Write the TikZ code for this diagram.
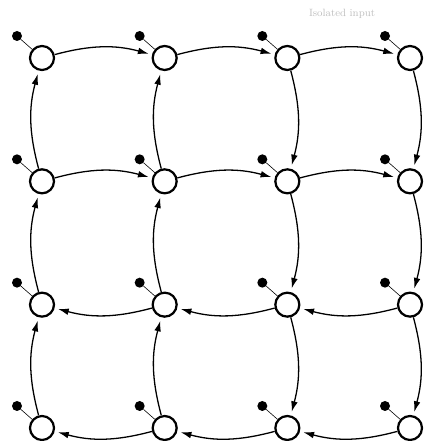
\documentclass[tikz,border=0pt]{standalone}
\usetikzlibrary{arrows.meta}
\begin{document}
\begin{tikzpicture}[x=1cm, y=1cm,
    cell/.style={circle, draw, line width=1.9pt, inner sep=0pt, minimum size=0.72cm, fill=white},
    probe/.style={circle, fill=black, inner sep=0pt, minimum size=0.3cm},
    tap/.style={line width=0.5pt},
    flow/.style={line width=1.1pt, -{Latex[length=0.32cm, width=0.2cm]}, shorten >=3pt, bend left=15}]
  \useasboundingbox (0,0) rectangle (12.69,13.23);
  % a 4 x 4 array of cells, each with its input dot up and to the left
  \foreach \r in {0,...,3} {
    \foreach \c in {0,...,3} {
      \node[cell]  (n\r\c) at ({1.26+3.68*\c}, {11.49-3.7*\r}) {};
      \node[probe] (d\r\c) at ([shift={(-0.75,0.66)}]n\r\c.center) {};
      \draw[tap] (d\r\c) -- (n\r\c);}}
  \node[text=black!25, font=\small] (note) at (10.26,12.8) {Isolated input};

  % upper two rows run to the right, lower two rows run to the left
  \foreach \a/\b in {0/1, 1/2, 2/3} {
    \draw[flow] (n0\a) to (n0\b);
    \draw[flow] (n1\a) to (n1\b);
    \draw[flow] (n2\b) to (n2\a);
    \draw[flow] (n3\b) to (n3\a);}
  % left two columns run up, right two columns run down
  \foreach \a/\b in {0/1, 1/2, 2/3} {
    \draw[flow] (n\b0) to (n\a0);
    \draw[flow] (n\b1) to (n\a1);
    \draw[flow] (n\a2) to (n\b2);
    \draw[flow] (n\a3) to (n\b3);}
\end{tikzpicture}
\end{document}
